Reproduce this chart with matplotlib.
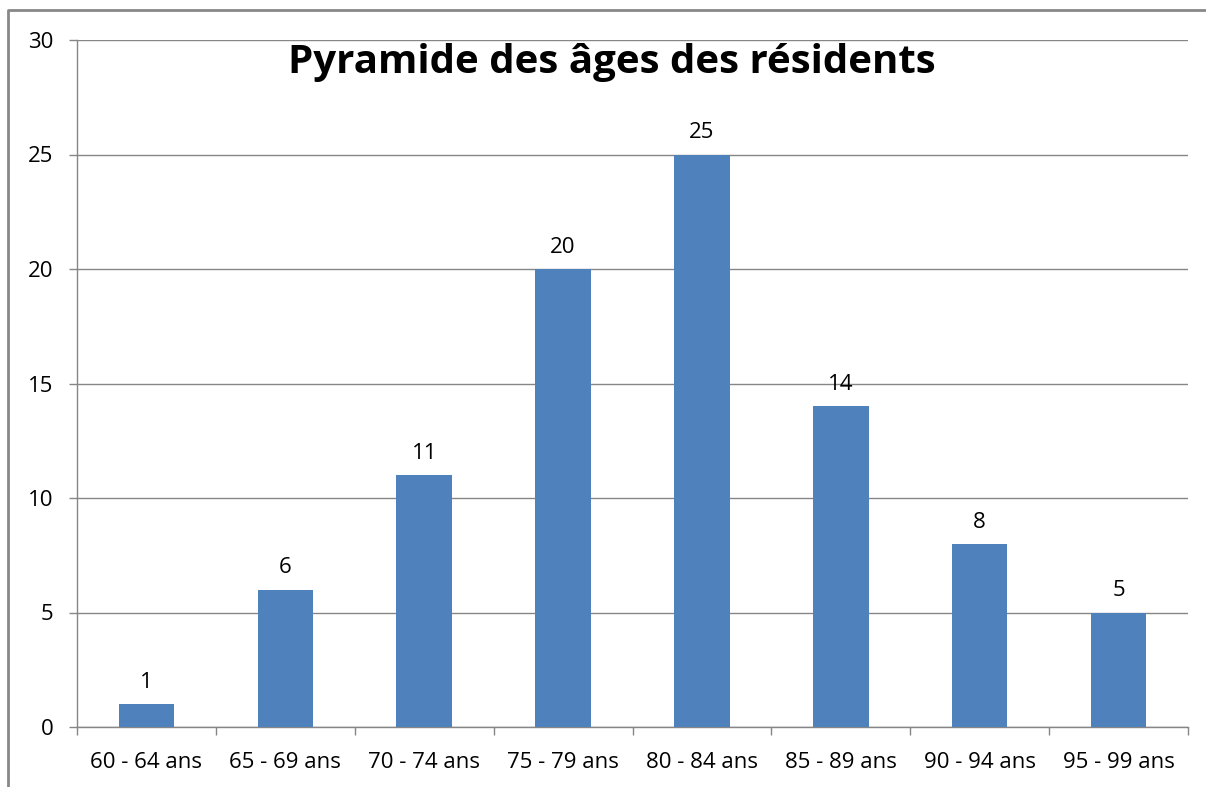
import matplotlib
matplotlib.use("Agg")
import matplotlib.pyplot as plt
from matplotlib.lines import Line2D

categories = ["60 - 64 ans", "65 - 69 ans", "70 - 74 ans", "75 - 79 ans",
              "80 - 84 ans", "85 - 89 ans", "90 - 94 ans", "95 - 99 ans"]
values = [1, 6, 11, 20, 25, 14, 8, 5]
yticks = [0, 5, 10, 15, 20, 25, 30]
title = "Pyramide des âges des résidents"

plt.rcParams['font.family'] = ['Open Sans', 'DejaVu Sans']

W, H = 1206, 787
fig = plt.figure(figsize=(W / 100, H / 100), dpi=100)
ax = fig.add_axes([77 / W, 1 - 727 / H, (1188 - 77) / W, (727 - 40) / H])

x = list(range(len(categories)))
bars = ax.bar(x, values, width=0.4, color="#4F81BD", zorder=3)
for xi, v in zip(x, values):
    ax.annotate(str(v), (xi, v), xytext=(0, 8), textcoords="offset points",
                ha="center", va="bottom", fontsize=16, color="black")

ax.set_xlim(-0.5, len(categories) - 0.5)
ax.set_ylim(0, 30)
ax.set_yticks(yticks)
ax.set_yticklabels([str(t) for t in yticks], fontsize=16)
ax.yaxis.grid(True, color="#868686", linewidth=1, zorder=0)
ax.set_xticks(x)
ax.set_xticklabels(categories, fontsize=16)
ax.tick_params(axis="x", length=0, pad=18)
ax.set_xticks([i - 0.5 for i in range(len(categories) + 1)], minor=True)
ax.tick_params(axis="x", which="minor", length=6, color="#868686", width=1)
ax.tick_params(axis="y", length=6, color="#868686", width=1, pad=11)

for s in ["top", "right"]:
    ax.spines[s].set_visible(False)
for s in ["left", "bottom"]:
    ax.spines[s].set_color("#868686")
    ax.spines[s].set_linewidth(1)

fig.text(612 / W, 1 - 62 / H, title, ha="center", va="center",
         fontsize=29, fontweight="bold", color="black")

fig.add_artist(Line2D([8 / W, 8 / W, 1.0], [0.0, 1 - 10 / H, 1 - 10 / H],
                      transform=fig.transFigure, color="#888888", linewidth=2))

fig.savefig("out.png", dpi=100)
